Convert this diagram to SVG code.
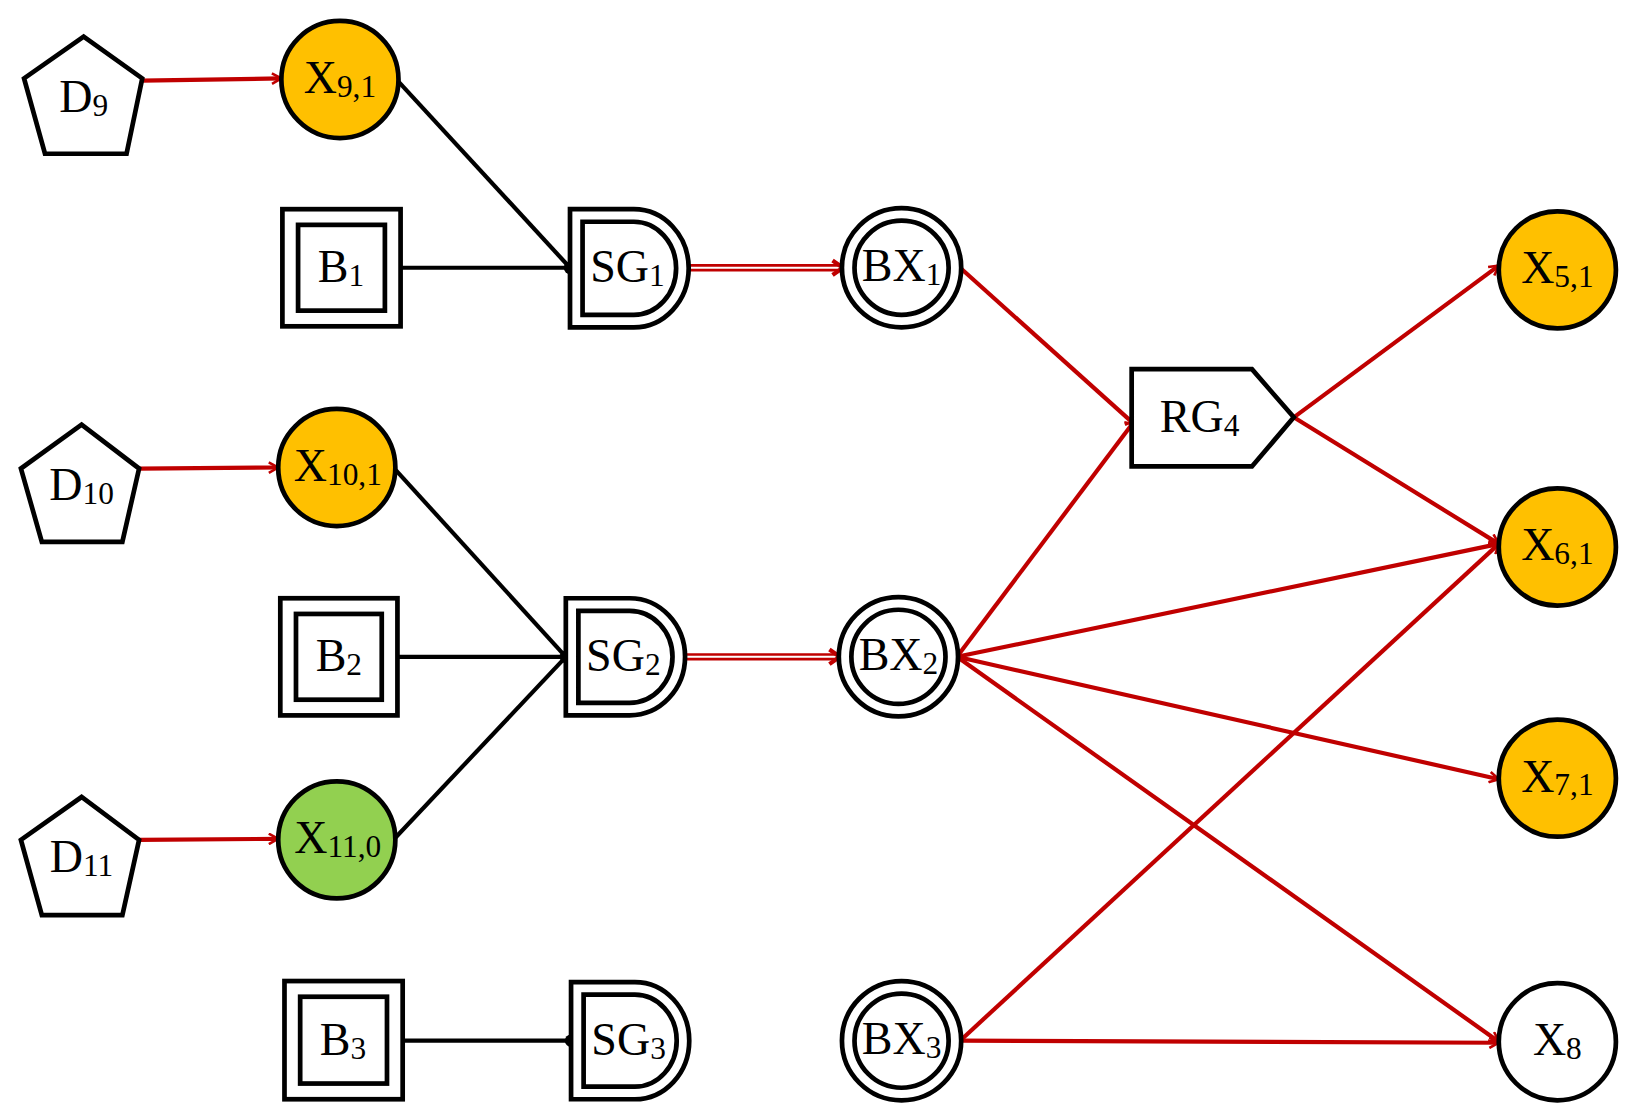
<svg xmlns="http://www.w3.org/2000/svg" width="1640" height="1119" viewBox="0 0 1640 1119">
<defs>
<style>
.s{fill:none;stroke:#000;stroke-width:4.5;stroke-linejoin:miter}
.w{fill:#fff;stroke:#000;stroke-width:4.5}
.o{fill:#FFC000;stroke:#000;stroke-width:4.5}
.g{fill:#92D050;stroke:#000;stroke-width:4.5}
.r{stroke:#C00000;stroke-width:4;fill:none}
.k{stroke:#000;stroke-width:4;fill:none}
.t{font-family:"Liberation Serif",serif;font-size:44px;text-anchor:middle;dominant-baseline:central;fill:#000}
.sub{font-size:30px}
</style>
<marker id="a" viewBox="0 0 12 12" refX="11" refY="6" markerWidth="12" markerHeight="12" markerUnits="userSpaceOnUse" orient="auto">
<path d="M2,1 L11,6 L2,11" fill="none" stroke="#C00000" stroke-width="2.5"/>
</marker>
</defs>
<rect width="1640" height="1119" fill="#fff"/>
<g transform="scale(1.0459)">
<g id="connectors">
<line class="r" x1="136" y1="77" x2="269" y2="75" marker-end="url(#a)"/>
<line class="r" x1="133" y1="448" x2="266" y2="447" marker-end="url(#a)"/>
<line class="r" x1="133" y1="803" x2="266" y2="802" marker-end="url(#a)"/>
<line class="k" x1="381" y1="78" x2="545" y2="256"/>
<line class="k" x1="383" y1="256" x2="545" y2="256"/>
<circle cx="545" cy="256" r="6" fill="#000"/>
<line class="k" x1="378" y1="449" x2="541" y2="628"/>
<line class="k" x1="380" y1="628" x2="541" y2="628"/>
<line class="k" x1="378" y1="801" x2="541" y2="628"/>
<circle cx="541" cy="628" r="6" fill="#000"/>
<line class="k" x1="385" y1="995" x2="546" y2="995"/>
<circle cx="546" cy="995" r="6" fill="#000"/>
<line x1="658" y1="256" x2="802" y2="256" stroke="#C00000" stroke-width="7"/>
<line x1="658" y1="256" x2="802" y2="256" stroke="#fff" stroke-width="2"/>
<path d="M796,249 L806,256 L796,263" fill="none" stroke="#C00000" stroke-width="4"/>
<line x1="655" y1="628" x2="799" y2="628" stroke="#C00000" stroke-width="7"/>
<line x1="655" y1="628" x2="799" y2="628" stroke="#fff" stroke-width="2"/>
<path d="M793,621 L803,628 L793,635" fill="none" stroke="#C00000" stroke-width="4"/>
<line class="r" x1="918" y1="256" x2="1085" y2="406" marker-end="url(#a)"/>
<line class="r" x1="915" y1="628" x2="1085" y2="402" marker-end="url(#a)"/>
<line class="r" x1="1237" y1="399" x2="1433" y2="254" marker-end="url(#a)"/>
<line class="r" x1="1237" y1="399" x2="1433" y2="520" marker-end="url(#a)"/>
<line class="r" x1="915" y1="628" x2="1433" y2="520" marker-end="url(#a)"/>
<line class="r" x1="915" y1="628" x2="1433" y2="745" marker-end="url(#a)"/>
<line class="r" x1="915" y1="628" x2="1433" y2="996" marker-end="url(#a)"/>
<line class="r" x1="918" y1="995" x2="1433" y2="520" marker-end="url(#a)"/>
<line class="r" x1="918" y1="995" x2="1433" y2="997" marker-end="url(#a)"/>
</g>
<g id="D9"><polygon class="w" points="80,35 136,75 121,147 43,147 23,75"/><text class="t" x="80" y="92">D<tspan class="sub" dy="8">9</tspan></text></g>
<g id="D10"><polygon class="w" points="78,406 133,448 117,518 40,518 20,448"/><text class="t" x="78" y="463">D<tspan class="sub" dy="8">10</tspan></text></g>
<g id="D11"><polygon class="w" points="78,762 133,803 117,875 40,875 20,803"/><text class="t" x="78" y="819">D<tspan class="sub" dy="8">11</tspan></text></g>
<g id="X91"><circle class="o" cx="325" cy="76" r="56"/><text class="t" x="325" y="74">X<tspan class="sub" dy="8">9,1</tspan></text></g>
<g id="X101"><circle class="o" cx="322" cy="447" r="56"/><text class="t" x="323" y="445">X<tspan class="sub" dy="8">10,1</tspan></text></g>
<g id="X110"><circle class="g" cx="322" cy="803" r="56"/><text class="t" x="323" y="801">X<tspan class="sub" dy="8">11,0</tspan></text></g>
<g id="B1"><rect class="w" x="270" y="200" width="113" height="112"/><rect class="s" x="285" y="215" width="83" height="82"/><text class="t" x="326" y="255">B<tspan class="sub" dy="8">1</tspan></text></g>
<g id="B2"><rect class="w" x="268" y="572" width="112" height="112"/><rect class="s" x="283" y="587" width="82" height="82"/><text class="t" x="324" y="627">B<tspan class="sub" dy="8">2</tspan></text></g>
<g id="B3"><rect class="w" x="272" y="938" width="113" height="113"/><rect class="s" x="287" y="953" width="83" height="83"/><text class="t" x="328" y="994">B<tspan class="sub" dy="8">3</tspan></text></g>
<g id="SG1"><path class="w" d="M545,200 H606 A52,56 0 0 1 606,313 H545 Z"/><path class="s" d="M557,212 H606 A40,44 0 0 1 606,301 H557 Z"/><text class="t" x="600" y="255">SG<tspan class="sub" dy="8">1</tspan></text></g>
<g id="SG2"><path class="w" d="M541,572 H602 A53,56 0 0 1 602,684 H541 Z"/><path class="s" d="M553,584 H602 A41,44 0 0 1 602,672 H553 Z"/><text class="t" x="596" y="627">SG<tspan class="sub" dy="8">2</tspan></text></g>
<g id="SG3"><path class="w" d="M546,939 H607 A52,56 0 0 1 607,1051 H546 Z"/><path class="s" d="M558,951 H607 A40,44 0 0 1 607,1039 H558 Z"/><text class="t" x="601" y="994">SG<tspan class="sub" dy="8">3</tspan></text></g>
<g id="BX1"><circle class="w" cx="862" cy="256" r="57"/><circle class="s" cx="862" cy="256" r="45"/><text class="t" x="862" y="254">BX<tspan class="sub" dy="8">1</tspan></text></g>
<g id="BX2"><circle class="w" cx="859" cy="628" r="57"/><circle class="s" cx="859" cy="628" r="45"/><text class="t" x="859" y="626">BX<tspan class="sub" dy="8">2</tspan></text></g>
<g id="BX3"><circle class="w" cx="862" cy="995" r="57"/><circle class="s" cx="862" cy="995" r="45"/><text class="t" x="862" y="993">BX<tspan class="sub" dy="8">3</tspan></text></g>
<g id="RG4"><polygon class="w" points="1082,353 1197,353 1237,399 1197,446 1082,446"/><text class="t" x="1147" y="398">RG<tspan class="sub" dy="8">4</tspan></text></g>
<g id="X51"><circle class="o" cx="1489" cy="258" r="56"/><text class="t" x="1489" y="256">X<tspan class="sub" dy="8">5,1</tspan></text></g>
<g id="X61"><circle class="o" cx="1489" cy="523" r="56"/><text class="t" x="1489" y="521">X<tspan class="sub" dy="8">6,1</tspan></text></g>
<g id="X71"><circle class="o" cx="1489" cy="744" r="56"/><text class="t" x="1489" y="742">X<tspan class="sub" dy="8">7,1</tspan></text></g>
<g id="X8"><circle class="w" cx="1489" cy="996" r="56"/><text class="t" x="1489" y="994">X<tspan class="sub" dy="8">8</tspan></text></g>
</g>
</svg>
